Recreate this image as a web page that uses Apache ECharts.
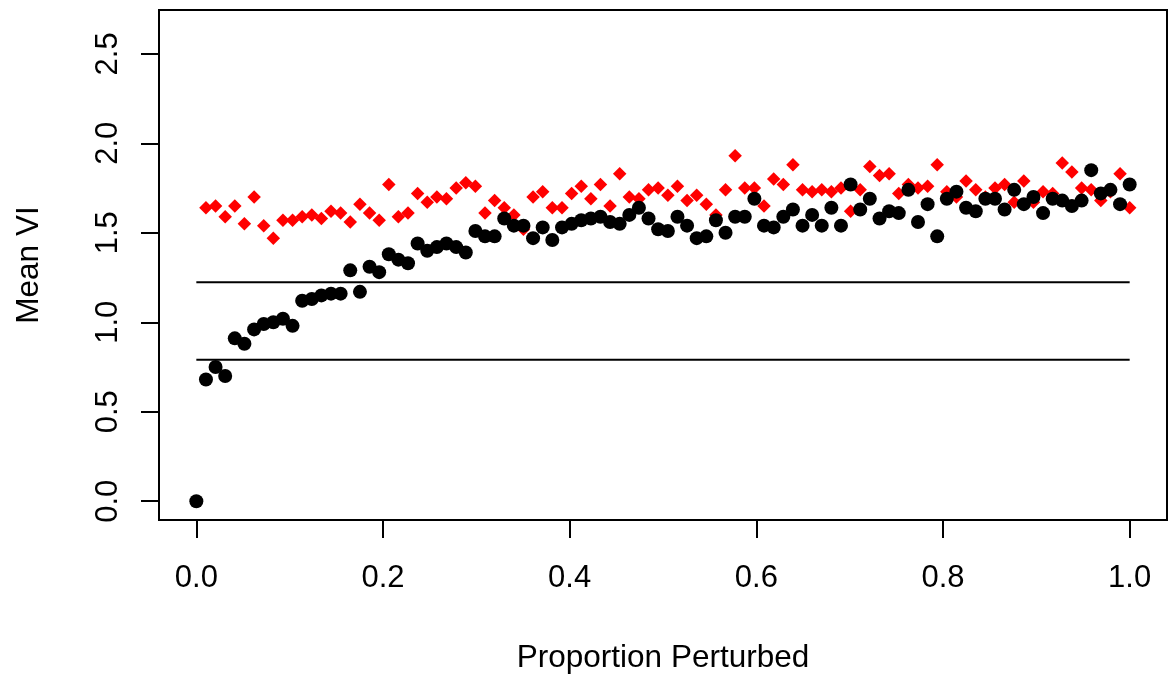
<!DOCTYPE html>
<html>
<head>
<meta charset="utf-8">
<script src="https://cdn.jsdelivr.net/npm/echarts@6/dist/echarts.min.js"></script>
<style>
  html, body { margin: 0; padding: 0; background: #fff; }
  #chart { width: 1168px; height: 675px; }
</style>
</head>
<body>
<div id="chart"></div>
<script>
  // proportion perturbed (x) for every point
  var propX = [
    0.0000, 0.0103, 0.0206, 0.0309, 0.0412, 0.0515, 0.0619, 0.0722, 0.0825, 0.0928,
    0.1031, 0.1134, 0.1237, 0.1340, 0.1443, 0.1546, 0.1649, 0.1753, 0.1856, 0.1959,
    0.2062, 0.2165, 0.2268, 0.2371, 0.2474, 0.2577, 0.2680, 0.2784, 0.2887, 0.2990,
    0.3093, 0.3196, 0.3299, 0.3402, 0.3505, 0.3608, 0.3711, 0.3814, 0.3918, 0.4021,
    0.4124, 0.4227, 0.4330, 0.4433, 0.4536, 0.4639, 0.4742, 0.4845, 0.4948, 0.5052,
    0.5155, 0.5258, 0.5361, 0.5464, 0.5567, 0.5670, 0.5773, 0.5876, 0.5979, 0.6082,
    0.6186, 0.6289, 0.6392, 0.6495, 0.6598, 0.6701, 0.6804, 0.6907, 0.7010, 0.7113,
    0.7216, 0.7320, 0.7423, 0.7526, 0.7629, 0.7732, 0.7835, 0.7938, 0.8041, 0.8144,
    0.8247, 0.8351, 0.8454, 0.8557, 0.8660, 0.8763, 0.8866, 0.8969, 0.9072, 0.9175,
    0.9278, 0.9381, 0.9485, 0.9588, 0.9691, 0.9794, 0.9897, 1.0000
  ];

  // black circles
  var blackVI = [
    0.00, 0.68, 0.75, 0.70, 0.91, 0.88, 0.96, 0.99, 1.00, 1.02,
    0.98, 1.12, 1.13, 1.15, 1.16, 1.16, 1.29, 1.17, 1.31, 1.28,
    1.38, 1.35, 1.33, 1.44, 1.40, 1.42, 1.44, 1.42, 1.39, 1.51,
    1.48, 1.48, 1.58, 1.54, 1.54, 1.47, 1.53, 1.46, 1.53, 1.55,
    1.57, 1.58, 1.59, 1.56, 1.55, 1.60, 1.64, 1.58, 1.52, 1.51,
    1.59, 1.54, 1.47, 1.48, 1.57, 1.50, 1.59, 1.59, 1.69, 1.54,
    1.53, 1.59, 1.63, 1.54, 1.60, 1.54, 1.64, 1.54, 1.77, 1.63,
    1.69, 1.58, 1.62, 1.61, 1.74, 1.56, 1.66, 1.48, 1.69, 1.73,
    1.64, 1.62, 1.69, 1.69, 1.63, 1.74, 1.66, 1.70, 1.61, 1.69,
    1.68, 1.65, 1.68, 1.85, 1.72, 1.74, 1.66, 1.77
  ];

  // red diamonds (none at x = 0)
  var redVI = [
    null, 1.64, 1.65, 1.59, 1.65, 1.55, 1.70, 1.54, 1.47, 1.57,
    1.57, 1.59, 1.60, 1.58, 1.62, 1.61, 1.56, 1.66, 1.61, 1.57,
    1.77, 1.59, 1.61, 1.72, 1.67, 1.70, 1.69, 1.75, 1.78, 1.76,
    1.61, 1.68, 1.64, 1.60, 1.52, 1.70, 1.73, 1.64, 1.64, 1.72,
    1.76, 1.69, 1.77, 1.65, 1.83, 1.70, 1.69, 1.74, 1.75, 1.71,
    1.76, 1.68, 1.71, 1.66, 1.60, 1.74, 1.93, 1.75, 1.75, 1.65,
    1.80, 1.77, 1.88, 1.74, 1.73, 1.74, 1.73, 1.75, 1.62, 1.74,
    1.87, 1.82, 1.83, 1.72, 1.77, 1.75, 1.76, 1.88, 1.73, 1.70,
    1.79, 1.74, 1.70, 1.75, 1.77, 1.67, 1.79, 1.67, 1.73, 1.72,
    1.89, 1.84, 1.75, 1.74, 1.68, 1.73, 1.83, 1.64
  ];

  // horizontal reference lines
  var refLines = [1.224, 0.79];
  var refSpan = [0, 1];

  var xTicks = [0, 0.2, 0.4, 0.6, 0.8, 1.0];
  var yTicks = [0, 0.5, 1.0, 1.5, 2.0, 2.5];

  function pairs(vals) {
    var out = [];
    vals.forEach(function (v, i) {
      if (v !== null) out.push([propX[i], v]);
    });
    return out;
  }

  var font = 'Liberation Sans, Arial, Helvetica, sans-serif';
  var series = [
    {
      type: 'scatter',
      data: pairs(redVI),
      symbol: 'diamond',
      symbolSize: 13.5,
      itemStyle: { color: '#ff0000', opacity: 1 },
      silent: true
    },
    {
      type: 'scatter',
      data: pairs(blackVI),
      symbol: 'circle',
      symbolSize: 14,
      itemStyle: { color: '#000000', opacity: 1 },
      silent: true
    }
  ];
  refLines.forEach(function (y) {
    series.push({
      type: 'line',
      data: [[refSpan[0], y], [refSpan[1], y]],
      showSymbol: false,
      lineStyle: { color: '#000', width: 2 },
      silent: true
    });
  });

  var chart = echarts.init(document.getElementById('chart'));
  chart.setOption({
    animation: false,
    backgroundColor: '#fff',
    grid: {
      left: 159, top: 10, width: 1008, height: 510,
      outerBoundsMode: 'none', containLabel: false,
      show: true, borderColor: '#000', borderWidth: 2, backgroundColor: 'transparent'
    },
    xAxis: {
      type: 'value',
      min: -0.04, max: 1.04,
      name: 'Proportion Perturbed',
      nameLocation: 'middle',
      nameGap: 122,
      nameTextStyle: { fontFamily: font, fontSize: 31.5, color: '#000' },
      axisLine: { show: false, onZero: false },
      splitLine: { show: false },
      axisTick: {
        show: true, inside: false, length: 18, customValues: xTicks,
        lineStyle: { color: '#000', width: 2 }
      },
      axisLabel: {
        customValues: xTicks, margin: 43,
        fontFamily: font, fontSize: 31, color: '#000',
        formatter: function (v) { return v.toFixed(1); }
      }
    },
    yAxis: {
      type: 'value',
      min: -0.105, max: 2.745,
      name: 'Mean VI',
      nameLocation: 'middle',
      nameRotate: 90,
      nameGap: 114,
      nameTextStyle: { fontFamily: font, fontSize: 31.5, color: '#000' },
      axisLine: { show: false, onZero: false },
      splitLine: { show: false },
      axisTick: {
        show: true, inside: false, length: 18, customValues: yTicks,
        lineStyle: { color: '#000', width: 2 }
      },
      axisLabel: {
        customValues: yTicks, margin: 35, rotate: 90,
        fontFamily: font, fontSize: 31, color: '#000',
        formatter: function (v) { return v.toFixed(1); }
      }
    },
    series: series
  });
</script>
</body>
</html>
